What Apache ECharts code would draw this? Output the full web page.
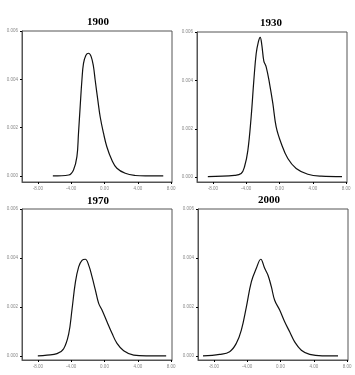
<!DOCTYPE html>
<html><head><meta charset="utf-8">
<script src="https://cdn.jsdelivr.net/npm/echarts@6/dist/echarts.min.js"></script>
<style>html,body{margin:0;padding:0;background:#fff}#c{width:355px;height:375px}</style>
</head><body><div id="c"></div>
<script>
const titles = ['1900', '1930', '1970', '2000'];
const xTicks = [-8, -4, 0, 4, 8];
const yTicks = [0, 0.002, 0.004, 0.006];

const x1900 = [-6.2,-4.3,-3.72,-3.31,-3.12,-2.92,-2.71,-2.52,-2.23,-1.92,-1.6,-1.32,-1.12,-0.8,-0.52,-0.12,0.28,0.88,1.49,2.49,3.69,4.9,7.05];
const y1900 = [0,0.00004,0.00025,0.0008,0.00177,0.00287,0.00397,0.00466,0.005,0.00508,0.00494,0.00452,0.00397,0.00314,0.00245,0.00177,0.00121,0.00066,0.00032,0.00011,0.00002,0,0];

const x1930 = [-8.6,-5.4,-4.6,-4.2,-3.8,-3.4,-3.08,-2.8,-2.53,-2.32,-2.12,-1.88,-1.6,-1.2,-0.8,-0.4,0.2,1.0,2.0,3.4,5.0,7.5];
const y1930 = [0.00002,0.00007,0.00015,0.00043,0.0011,0.0025,0.004,0.0051,0.0056,0.00578,0.00546,0.0048,0.00456,0.00388,0.00305,0.00208,0.0014,0.00077,0.00036,0.00012,0.00004,0.00002];

const x1970 = [-8.0,-6.9,-5.7,-4.9,-4.3,-3.9,-3.5,-3.1,-2.7,-2.3,-1.9,-1.5,-1.1,-0.7,-0.3,0.3,0.9,1.5,2.3,3.5,5.0,7.4];
const y1970 = [0.00001,0.00004,0.0001,0.0003,0.0009,0.0019,0.003,0.00364,0.0039,0.00395,0.00371,0.00324,0.0027,0.00215,0.00188,0.0014,0.00093,0.00052,0.00022,0.00004,0.00001,0.00001];

const x2000 = [-9.3,-7.3,-6.1,-5.3,-4.7,-4.1,-3.5,-2.9,-2.37,-1.9,-1.5,-1.1,-0.7,-0.1,0.5,1.1,1.7,2.5,3.5,5.0,6.9];
const y2000 = [0.00001,0.00007,0.00018,0.00052,0.00106,0.002,0.00303,0.00358,0.00395,0.00358,0.0033,0.00283,0.00228,0.00188,0.0014,0.00099,0.00058,0.00024,0.00007,0.00001,0.00001];

const xs = [x1900, x1930, x1970, x2000];
const ys = [y1900, y1930, y1970, y2000];

const grids = [
  {left: 22, top: 31, width: 150, height: 151},
  {left: 197, top: 32, width: 150, height: 150},
  {left: 22, top: 209, width: 150, height: 151},
  {left: 198, top: 209, width: 150, height: 151}
];
const yMins = [-0.00025, -0.0002, -0.00016, -0.00016];
const titlePos = [[93, 12], [266, 13], [93, 191], [264, 190]];

const axisCol = '#555';
const labelCol = '#888';

const option = {
  animation: false,
  backgroundColor: '#fff',
  title: titles.map((t, i) => ({
    text: t, left: titlePos[i][0], top: titlePos[i][1], textAlign: 'center',
    textStyle: {fontFamily: 'Liberation Serif', fontWeight: 'bold', fontSize: 11, color: '#000'}
  })),
  grid: grids.map(g => Object.assign({show: true, borderColor: axisCol, borderWidth: 1, backgroundColor: '#fff'}, g)),
  xAxis: grids.map((g, i) => ({
    type: 'value', gridIndex: i, min: -9.9, max: 8.1,
    splitLine: {show: false},
    axisLine: {show: true, onZero: false, lineStyle: {color: axisCol, width: 1}},
    axisTick: {show: true, length: 2, customValues: xTicks, lineStyle: {color: '#000', width: 1}},
    axisLabel: {customValues: xTicks, fontSize: 4.5, color: labelCol, margin: 4,
      formatter: v => v.toFixed(2)}
  })),
  yAxis: grids.map((g, i) => ({
    type: 'value', gridIndex: i, min: yMins[i], max: 0.006,
    splitLine: {show: false},
    axisLine: {show: true, onZero: false, lineStyle: {color: axisCol, width: 1}},
    axisTick: {show: true, length: 2, customValues: yTicks, lineStyle: {color: '#000', width: 1}},
    axisLabel: {customValues: yTicks, fontSize: 4.5, color: labelCol, margin: 4,
      formatter: v => v.toFixed(3)}
  })),
  series: xs.map((x, i) => ({
    type: 'line', xAxisIndex: i, yAxisIndex: i,
    data: x.map((v, k) => [v, ys[i][k]]),
    smooth: 0.4, showSymbol: false,
    lineStyle: {color: '#111', width: 1.2}
  }))
};
echarts.init(document.getElementById('c'), null, {renderer: 'canvas'}).setOption(option);
</script>
</body></html>
